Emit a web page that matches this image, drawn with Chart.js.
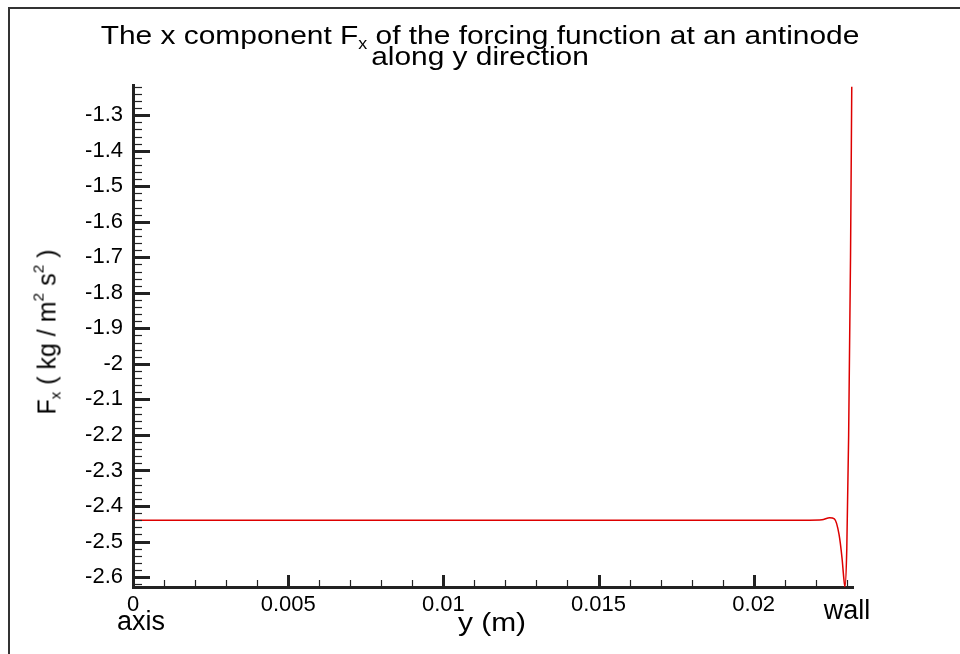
<!DOCTYPE html>
<html>
<head>
<meta charset="utf-8">
<script src="https://cdn.jsdelivr.net/npm/chart.js@4.4.1/dist/chart.umd.min.js"></script>
<style>
    html, body { margin: 0; padding: 0; background: #fff; }
    #wrap { position: relative; width: 960px; height: 654px; overflow: hidden; font-family: "Liberation Sans", Arial, sans-serif; color: #000; }
    #frame { position: absolute; left: 8px; top: 7px; width: 1000px; height: 700px; border-top: 2px solid #333; border-left: 2px solid #333; }
    #chart { position: absolute; left: 0; top: 0; }
    .lbl { position: absolute; white-space: nowrap; line-height: 1; }
    #title { left: 0; width: 960px; top: 25px; text-align: center; font-size: 26px; transform: scaleX(1.15); }
    #title div { line-height: 21px; height: 21px; }
    #ytitle { left: 47px; top: 332px; font-size: 25px; transform: translate(-50%, -50%) rotate(-90deg); }
    #xtitle { left: 492px; top: 622px; font-size: 26px; transform: translate(-50%, -50%) scaleX(1.15); }
    sub { font-size: 60%; vertical-align: -0.35em; line-height: 0; }
    sup { font-size: 62%; vertical-align: 0.75em; line-height: 0; }
</style>
</head>
<body>
<div id="wrap">
    <div id="frame"></div>
    <canvas id="chart" width="960" height="654"></canvas>
    <div id="title" class="lbl">
        <div>The x component F<sub>x</sub> of the forcing function at an antinode</div>
        <div>along y direction</div>
    </div>
    <div id="ytitle" class="lbl">F<sub>x</sub> ( kg / m<sup>2</sup> s<sup>2</sup> )</div>
    <div id="xtitle" class="lbl">y (m)</div>
</div>
<script>
/* ── DATA ───────────────────────────────────── */
const yPos = [0, 0.005, 0.01, 0.015, 0.02, 0.0218, 0.0222, 0.02245, 0.0226, 0.02275, 0.02285, 0.0229, 0.02294, 0.023, 0.02306, 0.02312, 0.02316];
const forceX = [-2.44, -2.44, -2.44, -2.44, -2.44, -2.44, -2.439, -2.433, -2.436, -2.48, -2.55, -2.6, -2.628, -2.52, -2.2, -1.7, -1.22];
const xRange = [0, 0.0232];
const yRange = [-2.628, -1.215];
const xStep = 0.001, xMajor = 0.005;
const yStep = 0.02, yMajor = 0.1;
const endLabels = ['axis', 'wall'];

const tickFont = { family: '"Liberation Sans", Arial, sans-serif', size: 22 };

function isMajor(v, major) {
    const r = v / major;
    return Math.abs(r - Math.round(r)) < 1e-6;
}

/* ── INWARD TICKS + END LABELS ──────────────── */
const tickPlugin = {
    id: 'inwardTicks',
    afterDraw(chart) {
        const { ctx, chartArea } = chart;
        const xs = chart.scales.x, ys = chart.scales.y;
        ctx.save();
        ctx.strokeStyle = '#222';
        xs.ticks.forEach(t => {
            const px = Math.round(xs.getPixelForValue(t.value)) + 0.5;
            const major = isMajor(t.value, xMajor);
            ctx.lineWidth = major ? 3 : 1.2;
            ctx.beginPath();
            ctx.moveTo(px, chartArea.bottom);
            ctx.lineTo(px, chartArea.bottom - (major ? 12 : 7));
            ctx.stroke();
        });
        ys.ticks.forEach(t => {
            const py = Math.round(ys.getPixelForValue(t.value)) + 0.5;
            const major = isMajor(t.value, yMajor);
            ctx.lineWidth = major ? 3 : 1.2;
            ctx.beginPath();
            ctx.moveTo(chartArea.left, py);
            ctx.lineTo(chartArea.left + (major ? 17 : 9), py);
            ctx.stroke();
        });
        // axis / wall markers under the x axis
        ctx.fillStyle = '#000';
        ctx.font = '27px "Liberation Sans", Arial, sans-serif';
        ctx.textAlign = 'center';
        ctx.textBaseline = 'middle';
        ctx.fillText(endLabels[0], xs.getPixelForValue(xRange[0]) + 8, 623);
        ctx.fillText(endLabels[1], xs.getPixelForValue(xRange[1]) - 6, 612);
        ctx.restore();
    }
};

new Chart(document.getElementById('chart'), {
    type: 'line',
    data: {
        datasets: [{
            data: yPos.map((x, i) => ({ x, y: forceX[i] })),
            borderColor: '#dd0000',
            borderWidth: 1.5,
            pointRadius: 0,
            fill: false,
            cubicInterpolationMode: 'monotone'
        }]
    },
    options: {
        responsive: false,
        animation: false,
        events: [],
        layout: { padding: { top: 85, right: 107, left: 0, bottom: 0 } },
        plugins: { legend: { display: false }, tooltip: { enabled: false } },
        scales: {
            x: {
                type: 'linear',
                min: xRange[0],
                max: xRange[1],
                afterFit(s) { s.height = 654 - 587; },
                border: { display: true, color: '#222', width: 3 },
                grid: { display: true, drawOnChartArea: false, drawTicks: false },
                ticks: {
                    stepSize: xStep,
                    includeBounds: false,
                    autoSkip: false,
                    maxRotation: 0,
                    minRotation: 0,
                    padding: 5,
                    color: '#000',
                    font: tickFont,
                    callback: v => isMajor(v, xMajor) ? String(Number(v.toFixed(4))) : ''
                }
            },
            y: {
                type: 'linear',
                min: yRange[0],
                max: yRange[1],
                afterFit(s) { s.width = 133; },
                border: { display: true, color: '#222', width: 3 },
                grid: { display: true, drawOnChartArea: false, drawTicks: false },
                ticks: {
                    stepSize: yStep,
                    includeBounds: false,
                    autoSkip: false,
                    padding: 10,
                    color: '#000',
                    font: tickFont,
                    callback: v => isMajor(v, yMajor) ? String(Number(v.toFixed(1))) : ''
                }
            }
        }
    },
    plugins: [tickPlugin]
});
</script>
</body>
</html>
